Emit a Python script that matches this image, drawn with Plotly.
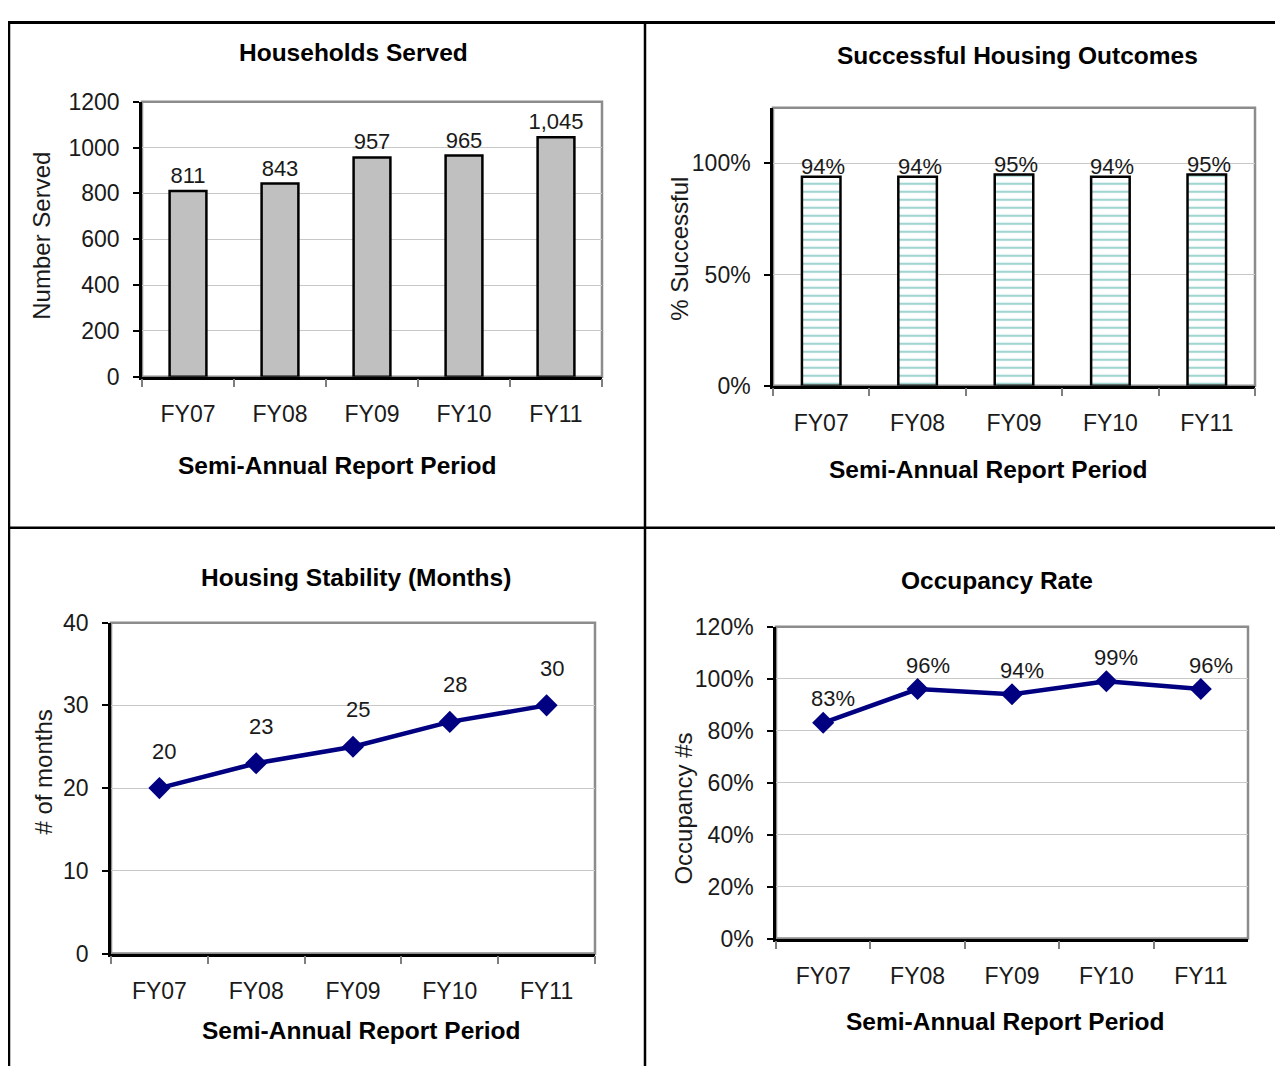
import plotly.graph_objects as go

# page body has 8px margins; the photographed picture maps page y -> 12.4 + 0.976*y
OFF = 8
SY, OY = 0.976, 12.4
W = 1283 - 2 * OFF
H = 1072

categories = ["FY07", "FY08", "FY09", "FY10", "FY11"]
households = [811, 843, 957, 965, 1045]
success_rate = [0.94, 0.94, 0.95, 0.94, 0.95]
stability_months = [20, 23, 25, 28, 30]
occupancy_rate = [0.83, 0.96, 0.94, 0.99, 0.96]

FONT = "Liberation Sans, Arial, sans-serif"
TXT = "#1a1a1a"
NAVY = "#000080"


def px_x(x):
    return (x - OFF) / W


def px_y(y):
    page = (y - OY) / SY
    return 1 - (page - OFF) / H


# plot areas in target-picture pixel coordinates (left, top, right, bottom)
areas = {
    1: (142, 101, 602, 376),
    2: (773, 107, 1255, 385),
    3: (111, 622, 595, 953),
    4: (776, 626, 1248, 938),
}

fig = go.Figure()

fig.add_trace(go.Bar(
    x=categories, y=households, xaxis="x", yaxis="y", width=0.4,
    marker=dict(color="#C0C0C0", line=dict(color="black", width=2.5)),
    text=[f"{v:,}" for v in households], textposition="outside", constraintext="none",
    textfont=dict(family=FONT, size=22, color=TXT), cliponaxis=False,
))

fig.add_trace(go.Bar(
    x=categories, y=success_rate, xaxis="x2", yaxis="y2", width=0.4,
    marker=dict(color="white", line=dict(color="black", width=2.5),
                pattern=dict(shape="-", fgcolor="#45ABA6", bgcolor="white",
                             size=8, solidity=0.28)),
    cliponaxis=False,
))

fig.add_trace(go.Scatter(
    x=categories, y=stability_months, xaxis="x3", yaxis="y3", mode="lines+markers",
    line=dict(color=NAVY, width=4.5), marker=dict(symbol="diamond", size=17, color=NAVY),
    cliponaxis=False,
))

fig.add_trace(go.Scatter(
    x=categories, y=occupancy_rate, xaxis="x4", yaxis="y4", mode="lines+markers",
    line=dict(color=NAVY, width=4.5), marker=dict(symbol="diamond", size=17, color=NAVY),
    cliponaxis=False,
))

annotations = []
for c, v in zip(categories, success_rate):
    annotations.append(dict(x=c, y=v, xref="x2", yref="y2", text=f"{round(v*100)}%", showarrow=False,
                            xanchor="center", yanchor="middle",
                            yshift=10, xshift=2, font=dict(family=FONT, size=22, color=TXT)))
for c, v in zip(categories, stability_months):
    annotations.append(dict(x=c, y=v, xref="x3", yref="y3", text=str(v), showarrow=False,
                            xanchor="center", yanchor="middle",
                            yshift=37, xshift=5, font=dict(family=FONT, size=22, color=TXT)))
for c, v in zip(categories, occupancy_rate):
    annotations.append(dict(x=c, y=v, xref="x4", yref="y4", text=f"{round(v*100)}%", showarrow=False,
                            xanchor="center", yanchor="middle",
                            yshift=24, xshift=10, font=dict(family=FONT, size=22, color=TXT)))

titles = [
    ("Households Served", 353, 52),
    ("Successful Housing Outcomes", 1017, 55),
    ("Housing Stability (Months)", 356, 577),
    ("Occupancy Rate", 997, 580),
]
for t, x, y in titles:
    annotations.append(dict(x=px_x(x), y=px_y(y), xref="paper", yref="paper", text=f"<b>{t}</b>",
                            xanchor="center", yanchor="middle",
                            showarrow=False, font=dict(family=FONT, size=24.5, color="black")))

xtitles = [(337, 465), (988, 469), (361, 1030), (1005, 1021)]
for x, y in xtitles:
    annotations.append(dict(x=px_x(x), y=px_y(y), xref="paper", yref="paper",
                            text="<b>Semi-Annual Report Period</b>", xanchor="center", yanchor="middle",
                            showarrow=False, font=dict(family=FONT, size=24.5, color="black")))

ytitles = [("Number Served", 42, 235), ("% Successful", 680, 248),
           ("# of months", 44, 772), ("Occupancy #s", 684, 808)]
for t, x, y in ytitles:
    annotations.append(dict(x=px_x(x), y=px_y(y), xref="paper", yref="paper", text=t, textangle=-90,
                            xanchor="center", yanchor="middle",
                            showarrow=False, font=dict(family=FONT, size=24, color=TXT)))

shapes = []
# plot-area borders (gray top/right)
for i, (l, t, r, b) in areas.items():
    shapes.append(dict(type="rect", xref="paper", yref="paper", x0=px_x(l), x1=px_x(r),
                       y0=px_y(b), y1=px_y(t), line=dict(color="#8C8C8C", width=2.5), layer="below"))


def hline(y, x0, x1, w=2.5):
    shapes.append(dict(type="line", xref="paper", yref="paper", x0=px_x(x0), x1=px_x(x1),
                       y0=y, y1=y, line=dict(color="black", width=w)))


def vline(x, y0, y1, w=2.5):
    shapes.append(dict(type="line", xref="paper", yref="paper", x0=px_x(x), x1=px_x(x),
                       y0=y0, y1=y1, line=dict(color="black", width=w)))


# table grid lines
top = 1 - 1.5 / H
hline(top, 8, 1275, 3)
hline(px_y(527), 9, 1275)
vline(9, 0, top)
vline(645, 0, top)

layout = dict(
    width=W, height=H, margin=dict(l=0, r=0, t=0, b=0),
    paper_bgcolor="white", plot_bgcolor="rgba(0,0,0,0)", showlegend=False,
    annotations=annotations, shapes=shapes,
)

yspec = {
    1: dict(range=[0, 1200], dtick=200, tickformat="d"),
    2: dict(range=[0, 1.25], dtick=0.5, tickformat=".0%"),
    3: dict(range=[0, 40], dtick=10, tickformat="d"),
    4: dict(range=[0, 1.2], dtick=0.2, tickformat=".0%"),
}

for i, (l, t, r, b) in areas.items():
    sfx = "" if i == 1 else str(i)
    layout["xaxis" + sfx] = dict(
        domain=[px_x(l), px_x(r)], anchor="y" + sfx, type="category", range=[-0.5, 4.5],
        showline=True, linecolor="black", linewidth=2.5, ticks="outside", tickson="boundaries",
        ticklen=8, tickcolor="#7f7f7f", tickwidth=1.5, showgrid=False, zeroline=False,
        tickfont=dict(family=FONT, size=23, color=TXT), ticklabelstandoff=15,
    )
    ys = yspec[i]
    layout["yaxis" + sfx] = dict(
        domain=[px_y(b), px_y(t)], anchor="x" + sfx, range=ys["range"], dtick=ys["dtick"],
        tickformat=ys["tickformat"], showline=True, linecolor="black", linewidth=2.5,
        ticks="outside", ticklen=6, tickcolor="black", tickwidth=1.5,
        showgrid=True, gridcolor="#C8C8C8", gridwidth=1.2, zeroline=False,
        tickfont=dict(family=FONT, size=23, color=TXT), ticklabelstandoff=9,
    )

fig.update_layout(**layout)
fig.write_html("out.html")
